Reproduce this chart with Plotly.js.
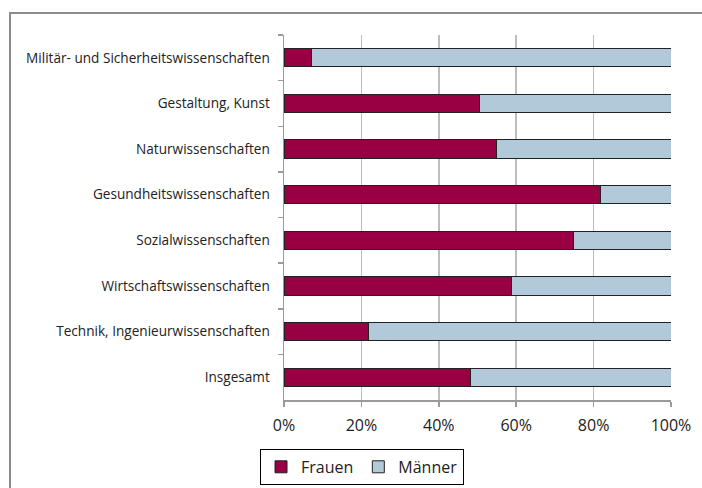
<!DOCTYPE html>
<html>
<head>
<meta charset="utf-8">
<script src="https://cdn.plot.ly/plotly-3.0.1.min.js"></script>
<style>
  html, body { margin: 0; padding: 0; width: 702px; height: 488px; overflow: hidden; background: #fff; }
  #frame { position: absolute; left: 9px; top: 12px; width: 760px; height: 560px; border: 2px solid #8c8c8c; box-sizing: border-box; }
  #chart { position: absolute; left: 0; top: 0; width: 702px; height: 488px; }
</style>
</head>
<body>
<div id="frame"></div>
<div id="chart"></div>
<script>
const categories = [
  "Militär- und Sicherheitswissenschaften",
  "Gestaltung, Kunst",
  "Naturwissenschaften",
  "Gesundheitswissenschaften",
  "Sozialwissenschaften",
  "Wirtschaftswissenschaften",
  "Technik, Ingenieurwissenschaften",
  "Insgesamt"
];
const frauen = [7.1, 50.6, 54.9, 81.8, 74.9, 58.8, 21.9, 48.1];
const maenner = [92.9, 49.4, 45.1, 18.2, 25.1, 41.2, 78.1, 51.9];
const seriesNames = ["Frauen", "Männer"];
const xTickVals = [0, 20, 40, 60, 80, 100];
const xTickText = ["0%", "20%", "40%", "60%", "80%", "100%"];

const font = "Open Sans, sans-serif";

const traces = [
  {
    type: "bar", orientation: "h", name: seriesNames[0],
    y: categories, x: frauen,
    marker: { color: "#990044", line: { color: "#222222", width: 1 } },
    hoverinfo: "x+y+name"
  },
  {
    type: "bar", orientation: "h", name: seriesNames[1],
    y: categories, x: maenner,
    marker: { color: "#b1c9d8", line: { color: "#222222", width: 1 } },
    hoverinfo: "x+y+name"
  }
];

const layout = {
  width: 702, height: 488,
  margin: { l: 284, r: 31, t: 35, b: 88, autoexpand: false },
  paper_bgcolor: "rgba(0,0,0,0)",
  plot_bgcolor: "rgba(0,0,0,0)",
  barmode: "stack",
  bargap: 0.6,
  font: { family: font, color: "#222222" },
  showlegend: true,
  legend: {
    orientation: "h",
    x: 0.2016, xanchor: "center",
    y: -0.134, yanchor: "top",
    bordercolor: "#000000", borderwidth: 1,
    bgcolor: "#ffffff",
    font: { family: font, size: 16, color: "#222222" },
    itemwidth: 30,
    traceorder: "normal"
  },
  xaxis: {
    automargin: false,
    range: [0, 100],
    tickmode: "array",
    tickvals: xTickVals,
    ticktext: xTickText,
    showgrid: true, gridcolor: "#bdbdbd", gridwidth: 1.5,
    zeroline: false,
    showline: true, linecolor: "#9a9a9a", linewidth: 1.5,
    ticks: "outside", ticklen: 5, tickcolor: "#9a9a9a", tickwidth: 1.5,
    ticklabelstandoff: 5,
    tickfont: { family: font, size: 16, color: "#222222" },
    fixedrange: true
  },
  yaxis: {
    automargin: false,
    categoryorder: "array",
    categoryarray: categories,
    autorange: "reversed",
    showgrid: false, zeroline: false,
    showline: true, linecolor: "#9a9a9a", linewidth: 1.5,
    ticks: "outside", ticklen: 5, tickcolor: "#9a9a9a", tickwidth: 1.5,
    tickson: "boundaries",
    ticklabelstandoff: 10,
    tickfont: { family: font, size: 13.6, color: "#222222" },
    fixedrange: true
  }
};

Plotly.newPlot("chart", traces, layout, { displayModeBar: false, staticPlot: true });
</script>
</body>
</html>
